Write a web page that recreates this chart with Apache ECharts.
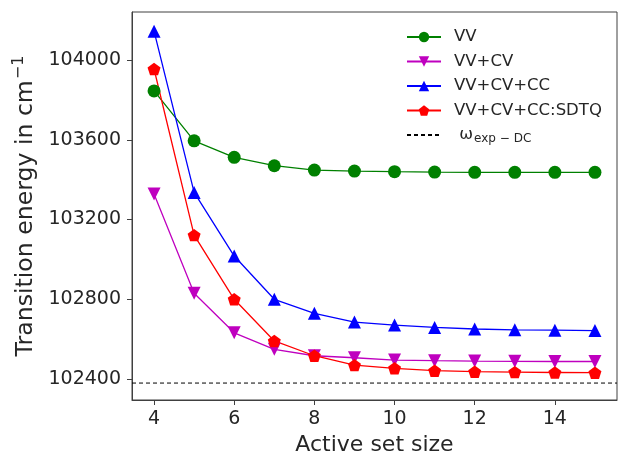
<!DOCTYPE html>
<html>
<head>
<meta charset="utf-8">
<script src="https://cdn.jsdelivr.net/npm/echarts@6/dist/echarts.min.js"></script>
<style>html,body{margin:0;padding:0;background:#fff}#c{width:624px;height:455px}</style>
</head>
<body>
<div id="c"></div>
<script>
const sizes = [4,5,6,7,8,9,10,11,12,13,14,15];
const vv = [103845,103595,103512,103470,103448,103443,103440,103438,103437,103437,103437,103437];
const vvcv = [103328,102830,102632,102549,102517,102507,102495,102492,102490,102489,102488,102488];
const vvcvcc = [104145,103336,103017,102800,102730,102686,102671,102659,102651,102647,102645,102643];
const sdtq = [103955,103122,102800,102591,102517,102470,102454,102442,102437,102435,102433,102432];
const expDC = 102380;
const yTicks = [102400,102800,103200,103600,104000];
const xTicks = [4,6,8,10,12,14];
const names = ['VV','VV+CV','VV+CV+CC','VV+CV+CC:SDTQ','ω_exp−DC'];

const FONT = 'DejaVu Sans';
const TXT = '#262626';
const EDGE = '#404040';
const pair = arr => sizes.map((s,i)=>[s,arr[i]]);
const pent = 'path://M0,-1 L0.951,-0.309 L0.588,0.809 L-0.588,0.809 L-0.951,-0.309 Z';

const mk = (name, arr, color, symbol, size, rot) => ({
  name, type:'line', data: pair(arr), symbol, symbolSize:size, symbolRotate: rot||0,
  itemStyle:{color}, lineStyle:{color, width:1.3}, animation:false
});

const chart = echarts.init(document.getElementById('c'));
chart.setOption({
  animation:false,
  grid:{left:132, right:7, top:12, bottom:55, show:true, borderColor:EDGE, borderWidth:1, backgroundColor:'transparent', outerBoundsMode:'none', containLabel:false},
  xAxis:{type:'value', min:3.45, max:15.55,
    name:'Active set size', nameLocation:'middle', nameGap:33,
    nameTextStyle:{fontFamily:FONT, fontSize:22, color:TXT},
    axisLine:{show:true, lineStyle:{color:EDGE}},
    axisTick:{show:true, length:5, lineStyle:{color:EDGE}, customValues:xTicks},
    axisLabel:{fontFamily:FONT, fontSize:19, color:TXT, margin:10, customValues:xTicks, formatter:v=>String(v)},
    splitLine:{show:false}},
  yAxis:{type:'value', min:102295, max:104241,
    name:'{a|Transition energy in cm}{b|−1}', nameLocation:'middle', nameGap:69,
    nameTextStyle:{fontFamily:FONT, fontSize:24, color:TXT,
      rich:{a:{fontFamily:FONT, fontSize:23.6, color:TXT}, b:{fontFamily:FONT, fontSize:16, color:TXT, padding:[0,0,13,1]}}},
    axisLine:{show:true, lineStyle:{color:EDGE}},
    axisTick:{show:true, length:5, lineStyle:{color:EDGE}, customValues:yTicks},
    axisLabel:{fontFamily:FONT, fontSize:19, color:TXT, margin:11, customValues:yTicks, formatter:v=>String(v)},
    splitLine:{show:false}},
  legend:{orient:'vertical', left:401, top:22, itemWidth:34, itemHeight:13, itemGap:4.5,
    data:names.slice(0,4).map(n=>({name:n})).concat([{name:names[4], itemStyle:{opacity:0}}]),
    textStyle:{fontFamily:FONT, fontSize:16.5, color:TXT, lineHeight:20, padding:[0,0,0,8],
      rich:{w:{fontFamily:FONT, fontSize:16.5, color:TXT, lineHeight:20}, s:{fontFamily:FONT, fontSize:12, color:TXT, lineHeight:20, padding:[8,0,0,1]}}},
    formatter: n => n === 'ω_exp−DC' ? '{w| ω}{s|exp − DC}' : n
  },
  series:[
    mk(names[0], vv, '#008000', 'circle', 13),
    mk(names[1], vvcv, '#bf00bf', 'triangle', 13, 180),
    mk(names[2], vvcvcc, '#0000ff', 'triangle', 13),
    mk(names[3], sdtq, '#ff0000', pent, [13,12.4]),
    {name:names[4], type:'line', symbol:'none', data:[[3.45,expDC],[15.55,expDC]],
     lineStyle:{color:'#000', width:1, type:[4,3]}, itemStyle:{color:'#000'}, animation:false}
  ]
});
</script>
</body>
</html>
